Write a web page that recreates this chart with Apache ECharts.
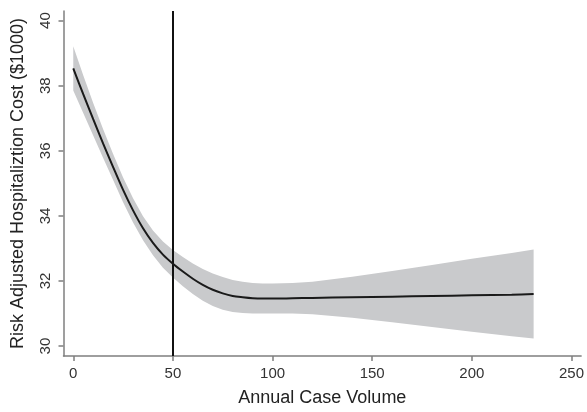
<!DOCTYPE html>
<html><head><meta charset="utf-8">
<script src="https://cdn.jsdelivr.net/npm/echarts@6/dist/echarts.min.js"></script>
<style>html,body{margin:0;padding:0;background:#fff}#c{width:587px;height:412px}</style>
</head><body><div id="c"></div>
<script>
var xs    = [0,5,10,15,20,25,30,35,40,45,50,55,60,65,70,75,80,85,90,95,100,110,120,140,160,180,200,220,231];
var fit   = [38.53,37.74,36.97,36.22,35.50,34.80,34.17,33.62,33.17,32.81,32.53,32.29,32.07,31.88,31.73,31.62,31.54,31.50,31.47,31.46,31.46,31.47,31.48,31.50,31.52,31.54,31.56,31.58,31.60];
var lower = [37.85,37.16,36.47,35.78,35.10,34.42,33.80,33.25,32.79,32.41,32.11,31.84,31.60,31.39,31.23,31.12,31.05,31.02,31.00,31.00,31.00,31.00,30.98,30.87,30.73,30.59,30.44,30.30,30.23];
var upper = [39.21,38.32,37.47,36.66,35.90,35.18,34.54,33.99,33.55,33.21,32.95,32.74,32.54,32.37,32.23,32.12,32.03,31.98,31.94,31.92,31.92,31.94,31.98,32.13,32.31,32.49,32.68,32.86,32.97];
var xTicks = [0,50,100,150,200,250];
var yTicks = [30,32,34,36,38,40];
var refX = 50;
var xTitle = 'Annual Case Volume';
var yTitle = 'Risk Adjusted Hospitaliztion Cost ($1000)';

var font = 'Liberation Sans, Arial, sans-serif';
var axisCol = '#7f7f7f';
var bandData = xs.map(function(x,i){return [x, lower[i], upper[i]];});
var chart = echarts.init(document.getElementById('c'), null, {renderer:'canvas'});
chart.setOption({
  animation:false,
  grid:{left:63.5, right:4, top:11, bottom:52, containLabel:false},
  xAxis:{type:'value', min:-4.9, max:254.85,
    name:xTitle, nameLocation:'middle', nameGap:33,
    nameTextStyle:{fontFamily:font, fontSize:18, color:'#222'},
    splitLine:{show:false},
    axisLine:{onZero:false, lineStyle:{color:axisCol, width:1.5}},
    axisTick:{customValues:xTicks, length:5, lineStyle:{color:axisCol, width:1.5}},
    axisLabel:{customValues:xTicks, margin:10, fontFamily:font, fontSize:15, color:'#333'}
  },
  yAxis:{type:'value', min:29.696, max:40.295,
    name:yTitle, nameLocation:'middle', nameGap:36, nameRotate:90,
    nameTextStyle:{fontFamily:font, fontSize:18, color:'#222'},
    splitLine:{show:false},
    axisLine:{onZero:false, show:true, lineStyle:{color:axisCol, width:1.5}},
    axisTick:{show:true, customValues:yTicks, length:5, lineStyle:{color:axisCol, width:1.5}},
    axisLabel:{customValues:yTicks, rotate:90, margin:10, fontFamily:font, fontSize:15, color:'#333'}
  },
  series:[
    {type:'custom', name:'band', data:bandData, silent:true, z:1,
      encode:{x:0, y:[1,2]},
      renderItem:function(params, api){
        if (params.dataIndex !== 0) return null;
        var top = [], bot = [];
        for (var i = 0; i < bandData.length; i++) {
          top.push(api.coord([bandData[i][0], bandData[i][2]]));
          bot.push(api.coord([bandData[i][0], bandData[i][1]]));
        }
        var pts = top.concat(bot.reverse());
        return {type:'polygon', shape:{points:pts, smooth:0}, style:{fill:'#c9cacc', stroke:null}};
      }},
    {type:'line', name:'fit', data:xs.map(function(x,i){return [x, fit[i]];}),
      symbol:'none', smooth:0.3, lineStyle:{color:'#1a1a1a', width:2}, z:5,
      markLine:{symbol:'none', silent:true, label:{show:false},
        lineStyle:{color:'#111', width:2, type:'solid'},
        data:[{xAxis:refX}]}}
  ]
});
</script></body></html>
